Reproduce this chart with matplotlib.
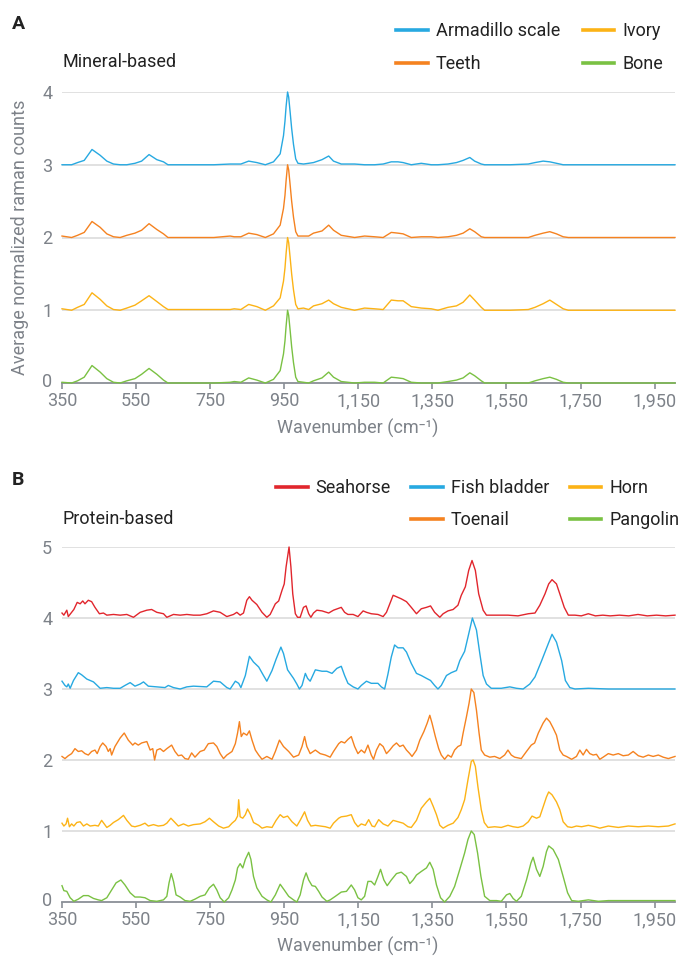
import matplotlib
matplotlib.use("Agg")
import matplotlib.pyplot as plt
import matplotlib.transforms as mtransforms
from matplotlib.lines import Line2D
from matplotlib.ticker import FuncFormatter

plt.rcParams["font.family"] = ["Roboto", "DejaVu Sans"]

# ---------------- Panel A: mineral-based spectra (normalized, before stacking) ----------------
wn_mineral = [350, 376, 392, 410, 431, 453, 471, 489, 507, 525, 547, 565, 585, 606, 624, 636, 700, 760,
              804, 815, 833, 854, 876, 899, 921, 939, 948, 952, 955, 959, 962, 966, 970, 975, 981, 987,
              1002, 1016, 1029, 1052, 1070, 1083, 1104, 1140, 1167, 1194, 1217, 1239, 1257, 1271, 1293,
              1320, 1347, 1365, 1392, 1415, 1433, 1451, 1464, 1482, 1491, 1560, 1609, 1627, 1649, 1667,
              1685, 1703, 1717, 1800, 1900, 2005]
armadillo = [0.0, 0.0, 0.03, 0.06, 0.21, 0.13, 0.05, 0.01, 0.0, 0.0,
             0.02, 0.05, 0.14, 0.07, 0.04, 0.0, 0.0, 0.0, 0.01, 0.01,
             0.01, 0.05, 0.03, 0.0, 0.04, 0.15, 0.40, 0.60, 0.80, 1.0,
             0.93, 0.72, 0.50, 0.28, 0.08, 0.02, 0.01, 0.02, 0.03, 0.07,
             0.12, 0.05, 0.01, 0.01, 0.0, 0.0, 0.01, 0.04, 0.04, 0.03,
             0.0, 0.02, 0.0, 0.0, 0.01, 0.03, 0.06, 0.10, 0.05, 0.01,
             0.0, 0.0, 0.01, 0.03, 0.05, 0.04, 0.02, 0.0, 0.0, 0.0, 0.0, 0.0]
teeth = [0.02, 0.0, 0.03, 0.07, 0.22, 0.14, 0.05, 0.01, 0.0, 0.03,
         0.06, 0.10, 0.19, 0.11, 0.05, 0.0, 0.0, 0.0, 0.02, 0.01,
         0.01, 0.06, 0.04, 0.0, 0.05, 0.17, 0.40, 0.58, 0.78, 1.0,
         0.93, 0.72, 0.50, 0.28, 0.08, 0.02, 0.02, 0.02, 0.06, 0.09,
         0.17, 0.10, 0.03, 0.0, 0.02, 0.01, 0.0, 0.07, 0.06, 0.05,
         0.0, 0.01, 0.01, 0.0, 0.01, 0.03, 0.06, 0.12, 0.08, 0.01,
         0.0, 0.0, 0.0, 0.03, 0.06, 0.08, 0.05, 0.01, 0.0, 0.0, 0.0, 0.0]
ivory = [0.02, 0.0, 0.04, 0.08, 0.24, 0.15, 0.06, 0.01, 0.0, 0.03,
         0.07, 0.13, 0.20, 0.12, 0.05, 0.01, 0.01, 0.01, 0.01, 0.02,
         0.01, 0.08, 0.05, 0.0, 0.06, 0.17, 0.40, 0.58, 0.78, 1.0,
         0.93, 0.72, 0.50, 0.28, 0.08, 0.02, 0.03, 0.01, 0.06, 0.09,
         0.14, 0.09, 0.04, 0.0, 0.03, 0.02, 0.01, 0.14, 0.13, 0.13,
         0.05, 0.03, 0.02, 0.0, 0.04, 0.06, 0.11, 0.21, 0.14, 0.04,
         0.0, 0.0, 0.01, 0.04, 0.09, 0.14, 0.08, 0.02, 0.0, 0.0, 0.0, 0.0]
bone = [0.01, 0.0, 0.03, 0.08, 0.24, 0.15, 0.06, 0.01, 0.0, 0.03,
        0.06, 0.12, 0.20, 0.12, 0.04, 0.0, 0.0, 0.0, 0.01, 0.02,
        0.01, 0.07, 0.04, 0.0, 0.05, 0.17, 0.40, 0.58, 0.78, 1.0,
        0.93, 0.72, 0.50, 0.28, 0.08, 0.02, 0.01, 0.0, 0.03, 0.07,
        0.15, 0.08, 0.02, 0.0, 0.01, 0.01, 0.0, 0.08, 0.07, 0.06,
        0.01, 0.0, 0.0, 0.0, 0.02, 0.04, 0.07, 0.14, 0.10, 0.03,
        0.0, 0.0, 0.0, 0.03, 0.06, 0.08, 0.05, 0.01, 0.0, 0.0, 0.0, 0.0]
mineral_names = ["Armadillo scale", "Teeth", "Ivory", "Bone"]
mineral_offsets = [3, 2, 1, 0]

# ---------------- Panel B: protein-based spectra ----------------
wn_seahorse = [350, 355, 363, 367, 373, 382, 391, 399, 406, 412, 421, 430, 439, 451, 462, 471, 489, 507,
               525, 543, 561, 579, 592, 606, 624, 633, 651, 669, 687, 705, 723, 741, 759, 777, 795, 813,
               822, 831, 840, 849, 856, 863, 876, 890, 903, 912, 926, 935, 944, 950, 955, 963, 968, 973,
               980, 986, 993, 1002, 1009, 1016, 1022, 1029, 1038, 1052, 1070, 1083, 1104, 1113, 1122,
               1136, 1149, 1163, 1172, 1185, 1203, 1217, 1226, 1235, 1244, 1253, 1266, 1280, 1293, 1307,
               1320, 1334, 1345, 1356, 1370, 1379, 1392, 1406, 1419, 1428, 1439, 1448, 1457, 1466, 1475,
               1487, 1496, 1509, 1554, 1581, 1609, 1627, 1640, 1654, 1664, 1673, 1685, 1694, 1706, 1717,
               1735, 1752, 1771, 1790, 1810, 1830, 1855, 1880, 1905, 1930, 1955, 1980, 2005]
seahorse = [0.07, 0.04, 0.11, 0.02, 0.06, 0.12, 0.22, 0.20, 0.24, 0.20, 0.25, 0.23, 0.15, 0.06, 0.07,
            0.04, 0.05, 0.04, 0.05, 0.01, 0.08, 0.11, 0.12, 0.08, 0.06, 0.01, 0.05, 0.04, 0.05, 0.04,
            0.04, 0.06, 0.10, 0.08, 0.02, 0.05, 0.08, 0.04, 0.07, 0.25, 0.30, 0.25, 0.19, 0.08, 0.01,
            0.05, 0.20, 0.24, 0.39, 0.48, 0.72, 1.0, 0.72, 0.34, 0.06, 0.01, 0.01, 0.15, 0.17, 0.06,
            0.01, 0.07, 0.11, 0.10, 0.07, 0.11, 0.15, 0.08, 0.05, 0.05, 0.02, 0.10, 0.08, 0.06, 0.05,
            0.02, 0.08, 0.20, 0.32, 0.30, 0.27, 0.23, 0.15, 0.06, 0.13, 0.15, 0.17, 0.08, 0.01, 0.06,
            0.10, 0.12, 0.18, 0.32, 0.44, 0.67, 0.81, 0.67, 0.34, 0.11, 0.04, 0.04, 0.04, 0.03, 0.06,
            0.07, 0.18, 0.34, 0.48, 0.54, 0.48, 0.34, 0.15, 0.04,
            0.04, 0.03, 0.06, 0.03, 0.04, 0.03, 0.04, 0.03, 0.05, 0.03, 0.04, 0.03, 0.04]

wn_fish = [350, 358, 363, 367, 372, 381, 394, 403, 417, 435, 453, 471, 489, 507, 520, 534, 547, 561, 570,
           583, 606, 628, 637, 651, 669, 687, 705, 741, 759, 777, 795, 804, 818, 827, 833, 845, 856, 867,
           881, 894, 903, 917, 928, 941, 948, 959, 975, 984, 991, 998, 1007, 1013, 1020, 1034, 1052, 1065,
           1079, 1092, 1104, 1113, 1122, 1136, 1149, 1158, 1172, 1185, 1203, 1212, 1221, 1230, 1239, 1248,
           1257, 1271, 1280, 1293, 1307, 1320, 1334, 1345, 1356, 1365, 1374, 1388, 1401, 1415, 1424, 1437,
           1446, 1458, 1469, 1478, 1487, 1496, 1509, 1536, 1559, 1577, 1595, 1613, 1627, 1645, 1663, 1673,
           1685, 1699, 1709, 1721, 1735, 1771, 1825, 2005]
fish_bladder = [0.11, 0.05, 0.03, 0.07, 0.01, 0.12, 0.23, 0.20, 0.14, 0.10, 0.01, 0.02, 0.01, 0.01, 0.05,
                0.09, 0.04, 0.07, 0.10, 0.04, 0.03, 0.02, 0.05, 0.02, 0.0, 0.03, 0.04, 0.03, 0.11, 0.10,
                0.02, 0.0, 0.11, 0.08, 0.02, 0.19, 0.46, 0.38, 0.31, 0.19, 0.11, 0.26, 0.42, 0.59, 0.50,
                0.27, 0.15, 0.07, 0.0, 0.05, 0.22, 0.15, 0.11, 0.27, 0.25, 0.25, 0.22, 0.29, 0.32, 0.19,
                0.08, 0.03, 0.0, 0.05, 0.11, 0.08, 0.08, 0.03, 0.0, 0.21, 0.45, 0.62, 0.58, 0.58, 0.52,
                0.36, 0.22, 0.19, 0.15, 0.12, 0.05, 0.0, 0.05, 0.19, 0.23, 0.26, 0.40, 0.53, 0.73, 1.0,
                0.83, 0.50, 0.19, 0.07, 0.01, 0.01, 0.03, 0.01, 0.0, 0.07, 0.17, 0.40, 0.64, 0.77, 0.66,
                0.40, 0.12, 0.02, 0.0, 0.01, 0.0, 0.0]

wn_toenail = [350, 358, 367, 376, 385, 394, 403, 412, 421, 430, 439, 445, 453, 460, 469, 475, 480, 484,
              493, 507, 518, 529, 541, 547, 556, 565, 579, 588, 595, 600, 606, 615, 624, 633, 646, 655,
              664, 673, 682, 691, 700, 709, 723, 734, 745, 759, 768, 777, 786, 795, 809, 818, 824, 829,
              834, 840, 849, 856, 863, 872, 881, 890, 903, 917, 926, 937, 948, 962, 975, 989, 998, 1005,
              1011, 1020, 1034, 1047, 1061, 1074, 1083, 1097,
              1104, 1113, 1122, 1131, 1140, 1149, 1158, 1167, 1176, 1185, 1191, 1199, 1208, 1217, 1226,
              1235, 1244, 1253, 1262, 1271, 1280, 1289, 1295, 1307, 1316, 1327, 1336, 1343, 1349, 1358,
              1367, 1374, 1383, 1392, 1401, 1410, 1419, 1427, 1433, 1442, 1449, 1455, 1462, 1469, 1476,
              1482, 1491, 1505, 1518, 1532, 1545, 1554, 1563, 1572, 1590, 1604, 1617, 1626, 1636, 1649,
              1658, 1667, 1676, 1685, 1694, 1703, 1712, 1726, 1739, 1748, 1757, 1766, 1775, 1784, 1793,
              1802, 1811, 1825, 1838, 1852, 1865, 1879, 1892, 1906, 1919, 1933, 1946, 1960, 1973, 1987, 2005]
toenail = [0.05, 0.02, 0.06, 0.09, 0.16, 0.12, 0.13, 0.09, 0.07, 0.12,
           0.14, 0.09, 0.19, 0.24, 0.19, 0.12, 0.16, 0.07, 0.19, 0.31,
           0.38, 0.28, 0.21, 0.24, 0.21, 0.24, 0.26, 0.14, 0.16, 0.0,
           0.14, 0.16, 0.12, 0.16, 0.21, 0.12, 0.06, 0.07, 0.02, 0.01,
           0.10, 0.04, 0.12, 0.14, 0.23, 0.24, 0.19, 0.09, 0.02, 0.07,
           0.12, 0.23, 0.38, 0.54, 0.33, 0.38, 0.35, 0.41, 0.28, 0.14,
           0.07, 0.01, 0.05, 0.01, 0.12, 0.28, 0.19, 0.12, 0.04, 0.07,
           0.19, 0.33, 0.19, 0.09, 0.14, 0.09, 0.07, 0.04, 0.12, 0.23,
           0.26, 0.24, 0.29, 0.33, 0.19, 0.09, 0.14, 0.10, 0.21, 0.07,
           0.01, 0.14, 0.23, 0.19, 0.09, 0.14, 0.20, 0.24, 0.19, 0.21,
           0.14, 0.09, 0.05, 0.14, 0.28, 0.40, 0.52, 0.63, 0.52, 0.33,
           0.16, 0.07, 0.01, 0.07, 0.04, 0.14, 0.19, 0.21, 0.38, 0.61,
           0.80, 1.0, 0.95, 0.70, 0.38, 0.14, 0.07, 0.04, 0.05, 0.02,
           0.07, 0.14, 0.07, 0.04, 0.02, 0.12, 0.21, 0.24, 0.38, 0.52,
           0.59, 0.54, 0.45, 0.35, 0.14, 0.07, 0.05, 0.01, 0.05, 0.14,
           0.07, 0.15, 0.09, 0.07, 0.08, 0.01, 0.04, 0.09, 0.07, 0.09,
           0.06, 0.07, 0.12, 0.06, 0.04, 0.07, 0.05, 0.07, 0.04, 0.02, 0.05]

wn_horn = [350, 355, 361, 365, 370, 376, 382, 390, 399, 408, 417, 426, 439, 448, 457, 464, 471, 480, 489,
           502, 516, 525, 538, 547, 561, 574, 583, 597, 610, 624, 633, 644, 653, 664, 678, 691, 705, 723,
           736, 748, 759, 773, 786, 800, 809, 818, 824, 827, 831, 838, 845, 851, 859, 867, 881, 890, 903,
           917, 928, 939, 948, 959, 971, 984, 993, 1005, 1013, 1022, 1034, 1047, 1061, 1074, 1083, 1097,
           1104, 1118, 1131, 1140, 1149, 1158, 1169, 1178, 1187, 1194, 1205, 1217, 1230, 1244, 1257, 1271,
           1284, 1293, 1307, 1320, 1334, 1343, 1352, 1361, 1370, 1379, 1392, 1406, 1419, 1428, 1437, 1446,
           1455, 1460, 1466, 1473, 1482, 1490, 1500, 1518, 1536, 1554, 1568, 1581, 1595, 1609, 1619, 1631,
           1640, 1649, 1658, 1664, 1673, 1685, 1694, 1703, 1715, 1726, 1739, 1753, 1771, 1789, 1802, 1825,
           1852, 1879, 1906, 1933, 1960, 1987, 2005]
horn = [0.11, 0.07, 0.10, 0.18, 0.06, 0.10, 0.07, 0.12, 0.13, 0.07,
        0.10, 0.07, 0.08, 0.07, 0.15, 0.10, 0.05, 0.08, 0.12, 0.16,
        0.22, 0.15, 0.07, 0.06, 0.08, 0.11, 0.07, 0.09, 0.07, 0.08,
        0.11, 0.18, 0.13, 0.07, 0.10, 0.07, 0.09, 0.10, 0.13, 0.18,
        0.13, 0.07, 0.04, 0.06, 0.11, 0.15, 0.21, 0.44, 0.20, 0.18,
        0.23, 0.31, 0.23, 0.12, 0.08, 0.04, 0.06, 0.05, 0.15, 0.23,
        0.19, 0.21, 0.13, 0.07, 0.15, 0.27, 0.15, 0.07, 0.08, 0.07,
        0.06, 0.04, 0.11, 0.18,
        0.20, 0.21, 0.23, 0.12, 0.06, 0.10, 0.08, 0.16, 0.07, 0.06,
        0.16, 0.10, 0.07, 0.15, 0.13, 0.11, 0.06, 0.05, 0.15, 0.32,
        0.41, 0.46, 0.35, 0.23, 0.08, 0.04, 0.08, 0.11, 0.19, 0.30,
        0.44, 0.72, 0.98, 1.0, 0.91, 0.62, 0.30, 0.12, 0.05, 0.06,
        0.05, 0.08, 0.06, 0.05, 0.07, 0.13, 0.21, 0.18, 0.20, 0.34,
        0.48, 0.55, 0.51, 0.41, 0.30, 0.13, 0.06, 0.05, 0.07, 0.06,
        0.08, 0.06, 0.04, 0.07, 0.05, 0.07, 0.06, 0.07, 0.06, 0.07, 0.10]

wn_pangolin = [350, 355, 363, 372, 382, 394, 408, 421, 435, 448, 457, 471, 484, 496, 509, 520, 534, 547,
               561, 574, 588, 606, 624, 633, 639, 645, 651, 658, 669, 682, 696, 709, 723, 736, 748, 759,
               768, 777, 788, 800, 809, 818, 824, 831, 838, 845, 854, 860, 867, 876, 890, 903, 914, 926,
               939, 950, 962, 975, 984, 993, 1002, 1009, 1016, 1025, 1034, 1043, 1052, 1065, 1074, 1088,
               1104, 1118, 1131, 1140, 1149, 1158, 1167, 1176, 1185, 1194, 1203, 1210, 1219, 1228, 1239,
               1253, 1266, 1280, 1289, 1298, 1307, 1320, 1334, 1343, 1352, 1361, 1372, 1383, 1397, 1410,
               1424, 1437, 1446, 1455, 1463, 1472, 1481, 1491, 1505, 1523, 1536, 1550, 1559, 1568, 1577,
               1590, 1604, 1616, 1622, 1631, 1640, 1649, 1658, 1664, 1676, 1690, 1703, 1715, 1726, 1744,
               1771, 1798, 1825, 1879, 1933, 1987, 2005]
pangolin = [0.23, 0.16, 0.15, 0.06, 0.01, 0.04, 0.09, 0.09, 0.05, 0.03,
            0.02, 0.06, 0.17, 0.27, 0.31, 0.24, 0.13, 0.07, 0.07, 0.06,
            0.02, 0.01, 0.03, 0.08, 0.27, 0.40, 0.29, 0.10, 0.07, 0.02,
            0.01, 0.04, 0.08, 0.10, 0.20, 0.25, 0.17, 0.06, 0.0, 0.06,
            0.17, 0.31, 0.48, 0.54, 0.48, 0.60, 0.70, 0.60, 0.36, 0.20,
            0.08, 0.03, 0.0, 0.10, 0.25, 0.17, 0.08, 0.03, 0.0, 0.10,
            0.31, 0.41, 0.31, 0.23, 0.22, 0.15, 0.07, 0.01, 0.03, 0.08,
            0.14, 0.15, 0.24, 0.17, 0.06, 0.03, 0.08, 0.29, 0.29, 0.24,
            0.36, 0.46, 0.31, 0.23, 0.31, 0.40, 0.42, 0.36, 0.26, 0.31,
            0.38, 0.43, 0.48, 0.56, 0.46, 0.24, 0.06, 0.0, 0.08, 0.22,
            0.46, 0.69, 0.88, 1.0, 0.95, 0.69, 0.36, 0.08, 0.02, 0.02,
            0.01, 0.10, 0.12, 0.05, 0.01, 0.08, 0.31, 0.55, 0.63, 0.46,
            0.36, 0.50, 0.71, 0.79, 0.74, 0.60, 0.36, 0.13, 0.02, 0.01,
            0.03, 0.01, 0.02, 0.02, 0.02, 0.02, 0.02]
protein_names = ["Seahorse", "Fish bladder", "Toenail", "Horn", "Pangolin"]
protein_offsets = [4, 3, 2, 1, 0]

x_ticks = [350, 550, 750, 950, 1150, 1350, 1550, 1750, 1950]

# ---------------- styling ----------------
W, H = 682, 958
BLUE, ORANGE, YELLOW, GREEN, RED = "#27a9e1", "#f58220", "#fcb316", "#7ac143", "#e1262d"
TICK_GRAY = "#7d8289"
GRID = "#dedede"
AXIS = "#8a8f96"
DARK = "#222222"


def style_axis(ax, ymax):
    ax.set_xlim(350, 2005)
    ax.set_ylim(0, ymax)
    ax.set_xticks(x_ticks)
    ax.xaxis.set_major_formatter(FuncFormatter(lambda v, p: f"{int(v):,}"))
    ax.set_yticks(range(0, ymax + 1))
    for s in ["top", "right", "left"]:
        ax.spines[s].set_visible(False)
    ax.spines["bottom"].set_color(AXIS)
    ax.spines["bottom"].set_linewidth(1.3)
    ax.tick_params(axis="x", colors=AXIS, labelcolor=TICK_GRAY, labelsize=13, length=4, width=1.2, pad=2.5)
    ax.tick_params(axis="y", length=0, labelcolor=TICK_GRAY, labelsize=13, pad=7)
    for yv in range(1, ymax + 1):
        ax.axhline(yv, color=GRID, lw=1.3, zorder=0)
    # lift the "0" label a touch so it clears the first wavenumber label
    zero_lbl = ax.yaxis.get_major_ticks()[0].label1
    zero_lbl.set_transform(zero_lbl.get_transform()
                           + mtransforms.ScaledTranslation(0, 3 / 100, fig.dpi_scale_trans))


fig = plt.figure(figsize=(W / 100, H / 100), dpi=100)

# Panel A
ax_a = fig.add_axes([62 / W, 1 - 383 / H, 613 / W, 291 / H])
style_axis(ax_a, 4)
mineral_series = [armadillo, teeth, ivory, bone]
mineral_colors = [BLUE, ORANGE, YELLOW, GREEN]
for vals, off, col in zip(mineral_series, mineral_offsets, mineral_colors):
    ax_a.plot(wn_mineral, [v + off for v in vals], color=col, lw=1.0, clip_on=False, zorder=3)

# Panel B
ax_b = fig.add_axes([62 / W, 1 - 902 / H, 613 / W, 355 / H])
style_axis(ax_b, 5)
protein_series = [(wn_seahorse, seahorse), (wn_fish, fish_bladder), (wn_toenail, toenail),
                  (wn_horn, horn), (wn_pangolin, pangolin)]
protein_colors = [RED, BLUE, ORANGE, YELLOW, GREEN]
for (wn, vals), off, col in zip(protein_series, protein_offsets, protein_colors):
    ax_b.plot(wn, [v + off for v in vals], color=col, lw=1.0, clip_on=False, zorder=3)

# Legends
leg_kw = dict(frameon=False, fontsize=13, handlelength=1.75, handletextpad=0.45,
              borderpad=0, borderaxespad=0, loc="upper left", labelcolor=DARK)
hA = [Line2D([], [], color=c, lw=2.6) for c in mineral_colors]
fig.legend(hA, mineral_names, ncol=2, bbox_to_anchor=(396 / W, 1 - 22 / H),
           columnspacing=1.25, labelspacing=0.85, **leg_kw)

blank = Line2D([], [], color="none")
hB = [Line2D([], [], color=c, lw=2.6) for c in protein_colors]
fig.legend([hB[0], blank, hB[1], hB[2], hB[3], hB[4]],
           ["Seahorse", "", "Fish bladder", "Toenail", "Horn", "Pangolin"],
           ncol=3, bbox_to_anchor=(276 / W, 1 - 479 / H),
           columnspacing=1.12, labelspacing=0.78, **leg_kw)

# Text
fig.text(12 / W, 1 - 24 / H, "A", fontsize=14, fontweight="bold", color=DARK, va="center")
fig.text(12 / W, 1 - 480 / H, "B", fontsize=14, fontweight="bold", color=DARK, va="center")
fig.text(63 / W, 1 - 62 / H, "Mineral-based", fontsize=13, color=DARK, va="center")
fig.text(63 / W, 1 - 519 / H, "Protein-based", fontsize=13, color=DARK, va="center")
fig.text(20 / W, 1 - 237 / H, "Average normalized raman counts", fontsize=13, color=TICK_GRAY,
         rotation=90, ha="center", va="center")
fig.text(358 / W, 1 - 428 / H, "Wavenumber (cm\u207b\u00b9)", fontsize=13, color=TICK_GRAY,
         ha="center", va="center")
fig.text(358 / W, 1 - 946 / H, "Wavenumber (cm\u207b\u00b9)", fontsize=13, color=TICK_GRAY,
         ha="center", va="center")

fig.savefig("out.png", dpi=100)
